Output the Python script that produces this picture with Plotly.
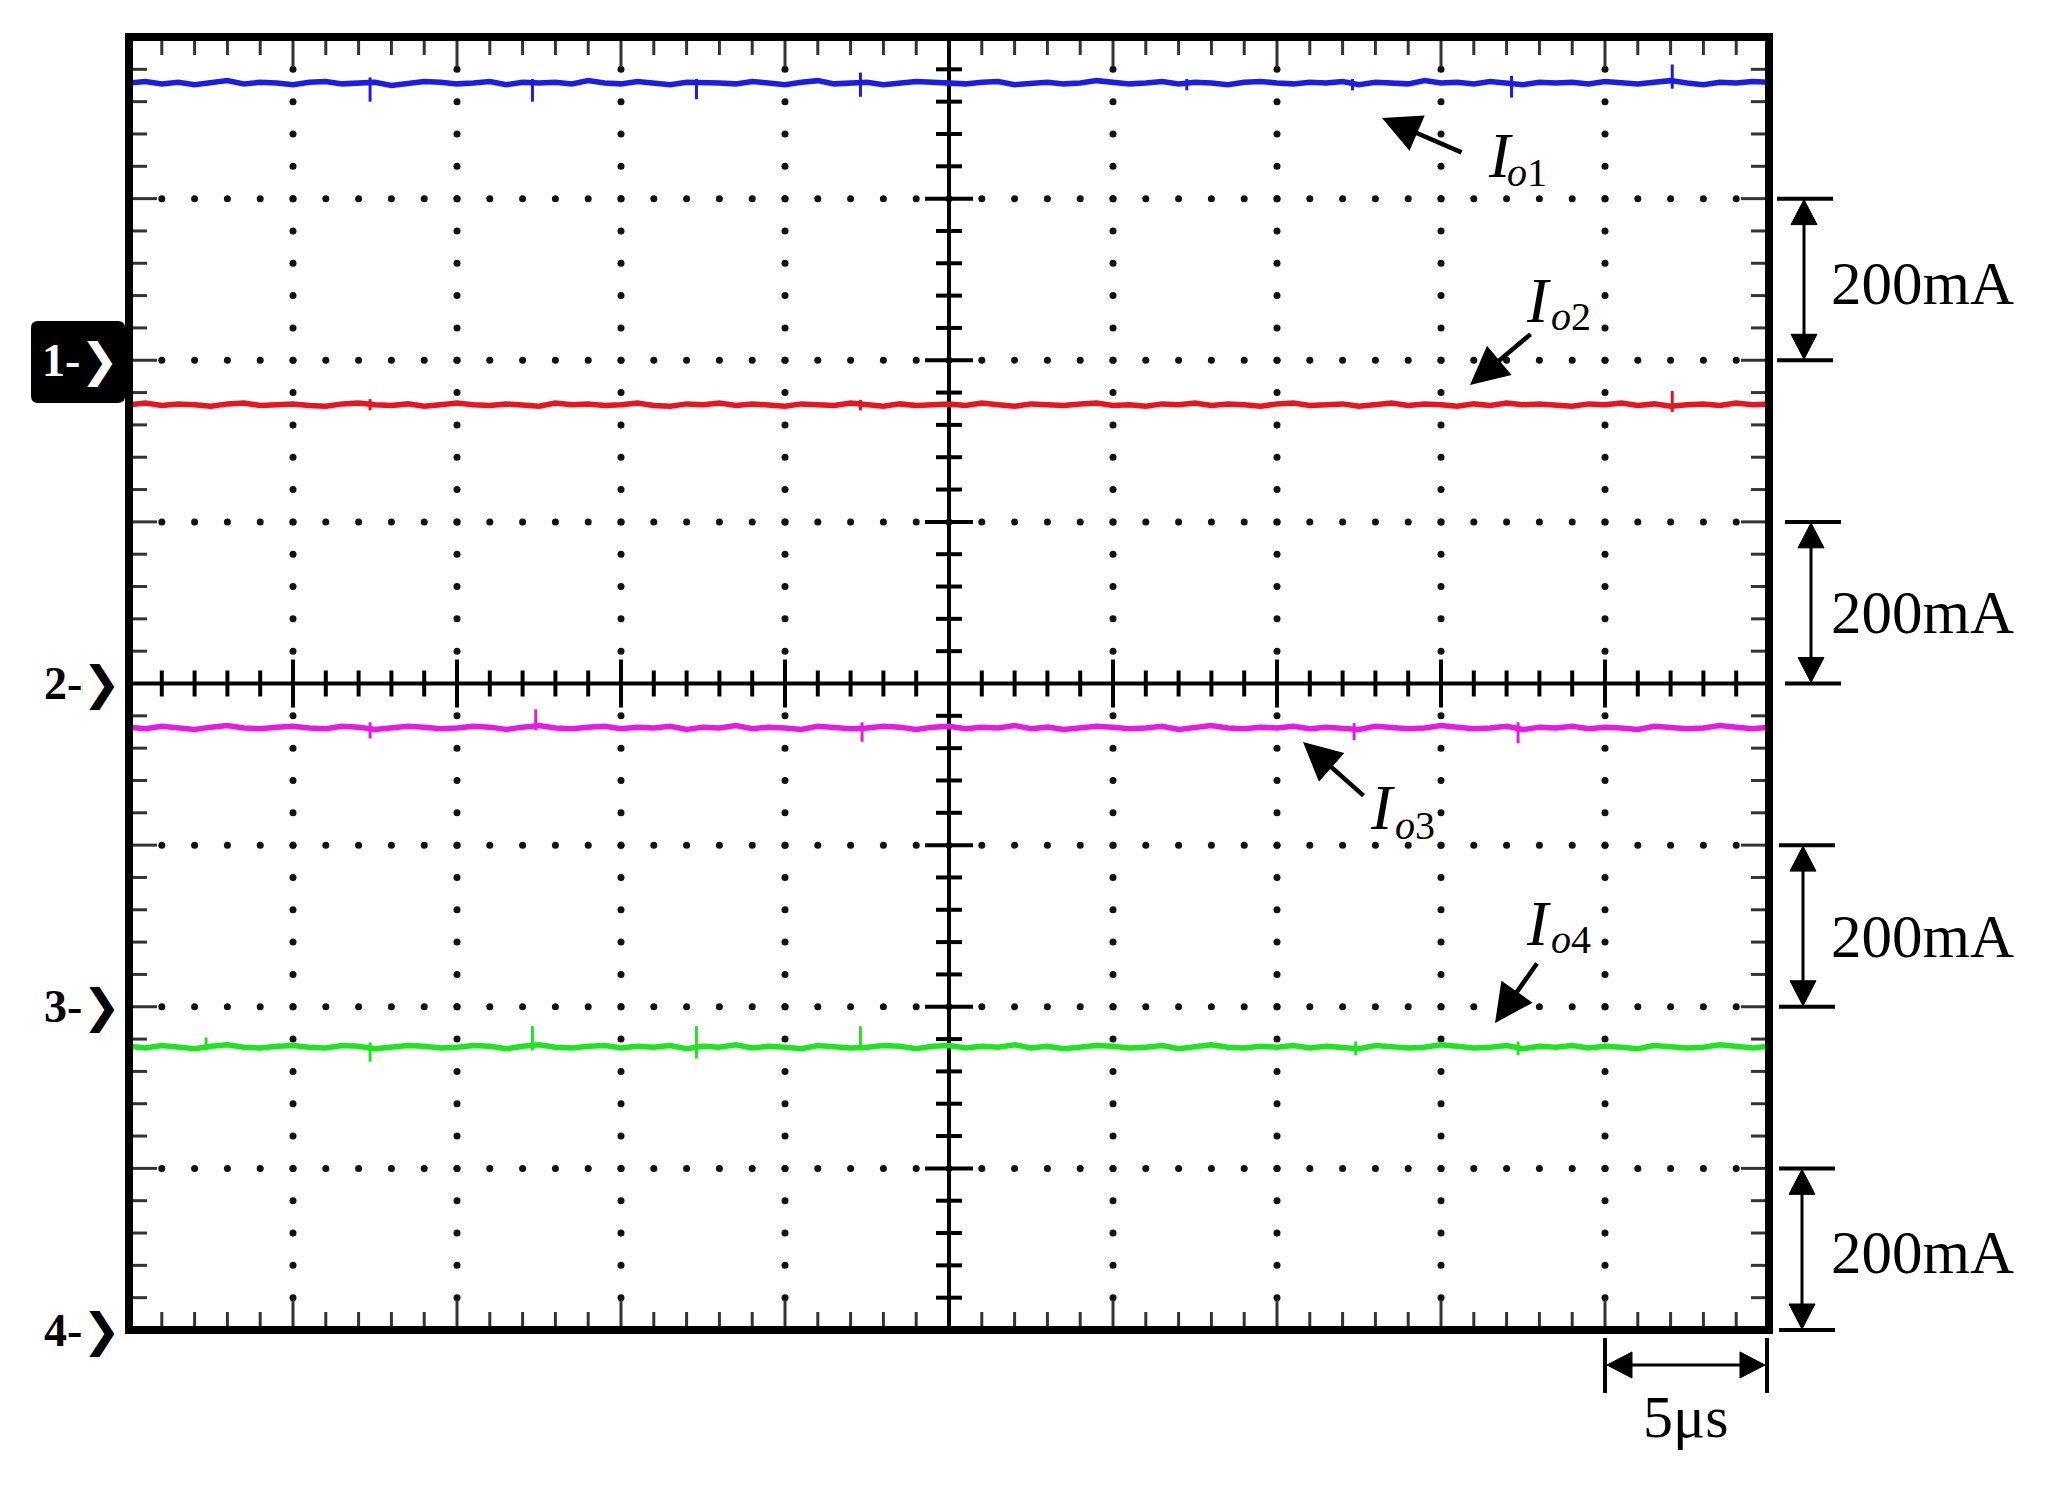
import numpy as np
import plotly.graph_objects as go

# ---------------- data ----------------
us_per_div = 5
ma_per_div = 200
n_xdiv, n_ydiv = 10, 8
channel_ground_div = [6, 4, 2, 0]
channel_numbers = ["1", "2", "3", "4"]
trace_colors = ["#1c1ce8", "#e8141e", "#e619e6", "#1ee61e"]

io1 = [343,345,342,344,341,343,346,342,344,343,
       341,344,345,342,343,344,340,343,345,344,
       342,343,345,341,344,343,344,342,346,343,
       342,345,343,341,344,344,343,342,345,343,
       341,344,346,342,343,344,341,343,345,344,
       343,342,344,345,341,343,344,342,343,346,
       344,342,343,345,342,344,343,341,344,345,
       343,342,344,343,345,341,344,343,342,346,
       343,344,342,345,343,341,344,343,344,342,
       345,343,342,344,346,343,341,344,343,345,344]
io2 = [345,347,344,346,345,343,346,347,344,345,
       346,344,343,346,347,345,344,346,343,345,
       347,345,344,346,345,343,347,345,346,344,
       345,347,344,343,346,345,347,344,346,345,
       343,346,345,344,347,345,343,346,344,345,
       346,344,347,345,343,346,345,344,346,347,
       344,345,343,346,345,347,344,346,345,343,
       346,347,344,345,346,343,345,347,344,346,
       345,343,346,344,347,345,346,344,343,346,
       345,347,344,346,343,345,346,344,347,345,346]
io3 = [346,344,347,345,343,346,348,345,344,346,
       347,345,344,347,346,343,345,347,346,344,
       345,347,346,343,346,348,345,344,346,347,
       344,346,345,347,343,346,345,348,344,346,
       345,343,347,346,344,345,347,346,343,346,
       347,344,346,345,348,344,346,343,345,347,
       346,344,345,347,343,346,348,345,344,346,
       345,347,344,346,345,343,347,346,344,345,
       348,346,344,345,347,343,346,345,347,344,
       346,345,343,347,346,344,345,348,346,344,346]
io4 = [351,349,352,350,348,351,353,350,349,351,
       352,350,349,352,351,348,350,352,351,349,
       350,352,351,348,351,353,350,349,351,352,
       349,351,350,352,348,351,350,353,349,351,
       350,348,352,351,349,350,352,351,348,351,
       352,349,351,350,353,349,351,348,350,352,
       351,349,350,352,348,351,353,350,349,351,
       350,352,349,351,350,348,352,351,349,350,
       353,351,349,350,352,348,351,350,352,349,
       351,350,348,352,351,349,350,353,351,349,351]
traces_ma = [io1, io2, io3, io4]

# spikes: time (us), low (mA), high (mA)
spike_t = [
    [7.35, 12.3, 17.3, 22.3, 32.25, 37.3, 42.15, 47.05],
    [7.35, 22.3, 47.05],
    [7.35, 12.4, 22.35, 37.35, 42.35],
    [2.35, 7.35, 12.3, 17.3, 22.3, 37.4, 42.35],
]
spike_lo = [
    [320, 320, 323, 326, 334, 334, 325, 336],
    [338, 338, 336],
    [332, 342, 328, 330, 326],
    [346, 332, 346, 336, 346, 340, 340],
]
spike_hi = [
    [350, 348, 348, 356, 348, 348, 352, 366],
    [352, 351, 362],
    [352, 368, 352, 351, 352],
    [362, 356, 376, 376, 376, 357, 357],
]

# ---------------- geometry helpers (page pixels) ----------------
W, H = 2048, 1488
BODY = 8                      # browser body margin
PL, PR, PT, PB = 129, 1769, 37, 1330
XMAX = us_per_div * n_xdiv
dx = XMAX / (PR - PL)       # data units per px
dy = n_ydiv / (PB - PT)

def px2x(px):
    return (px - PL) / (PR - PL)

def py2y(py):
    return (PB - py) / (PB - PT)

fig = go.Figure()

# ---------------- grid dots ----------------
gx, gy = [], []
for i in range(1, n_xdiv):
    if i == n_xdiv // 2:
        continue
    for k in range(1, n_ydiv * 5):
        if k == n_ydiv * 5 // 2:
            continue
        gx.append(i * us_per_div); gy.append(k * 0.2)
for j in range(1, n_ydiv):
    if j == n_ydiv // 2:
        continue
    for k in range(1, n_xdiv * 5):
        gx.append(k * us_per_div / 5); gy.append(j)
fig.add_trace(go.Scatter(x=gx, y=gy, mode="markers",
                         marker=dict(size=7, color="#111111", line=dict(width=0)),
                         hoverinfo="skip", showlegend=False))

# ---------------- border ticks ----------------
tx, ty = [], []
for k in range(1, n_xdiv * 5):
    L = 30 if k % 5 == 0 else 18
    x = k * us_per_div / 5
    tx += [x, x, None, x, x, None]
    ty += [n_ydiv, n_ydiv - L * dy, None, 0, L * dy, None]
for k in range(1, n_ydiv * 5):
    L = 28 if k % 5 == 0 else 18
    y = k * 0.2
    tx += [0, L * dx, None, XMAX, XMAX - L * dx, None]
    ty += [y, y, None, y, y, None]
fig.add_trace(go.Scatter(x=tx, y=ty, mode="lines", line=dict(color="#333333", width=3),
                         hoverinfo="skip", showlegend=False))

# ---------------- center cross ----------------
cx, cy = [0, XMAX, None, XMAX / 2, XMAX / 2], [n_ydiv / 2, n_ydiv / 2, None, 0, n_ydiv]
for k in range(1, n_xdiv * 5):
    if k == n_xdiv * 5 // 2:
        continue
    L = 24 if k % 5 == 0 else 13
    x = k * us_per_div / 5
    cx += [None, x, x]
    cy += [None, n_ydiv / 2 - L * dy, n_ydiv / 2 + L * dy]
for k in range(1, n_ydiv * 5):
    if k == n_ydiv * 5 // 2:
        continue
    L = 24 if k % 5 == 0 else 13
    y = k * 0.2
    cx += [None, XMAX / 2 - L * dx, XMAX / 2 + L * dx]
    cy += [None, y, y]
fig.add_trace(go.Scatter(x=cx, y=cy, mode="lines", line=dict(color="#000000", width=4),
                         hoverinfo="skip", showlegend=False))

# ---------------- signal traces ----------------
for vals, g, col, st, lo, hi in zip(traces_ma, channel_ground_div, trace_colors,
                                    spike_t, spike_lo, spike_hi):
    t = np.linspace(0, XMAX, len(vals))
    y = g + np.array(vals) / ma_per_div
    sx, sy = [], []
    for a, b, c in zip(st, lo, hi):
        sx += [a, a, None]
        sy += [g + b / ma_per_div, g + c / ma_per_div, None]
    fig.add_trace(go.Scatter(x=sx, y=sy, mode="lines", line=dict(color=col, width=3),
                             hoverinfo="skip", showlegend=False))
    fig.add_trace(go.Scatter(x=t, y=y, mode="lines", line=dict(color=col, width=5.5),
                             hoverinfo="skip", showlegend=False))

# ---------------- shapes ----------------
shapes = []
# frame (paper refs so the stroke is not clipped)
shapes.append(dict(type="rect", xref="paper", yref="paper", x0=0, x1=1, y0=0, y1=1,
                   line=dict(color="black", width=8), layer="above"))

def line_px(x0, y0, x1, y1, w=3):
    return dict(type="line", xref="paper", yref="paper",
                x0=px2x(x0), y0=py2y(y0), x1=px2x(x1), y1=py2y(y1),
                line=dict(color="black", width=w), layer="above")

def tri_px(pts):
    p = "M " + " L ".join(f"{px2x(a):.6f},{py2y(b):.6f}" for a, b in pts) + " Z"
    return dict(type="path", xref="paper", yref="paper", path=p,
                fillcolor="black", line=dict(color="black", width=1), layer="above")

# 200mA scale bars (between grid rows)
bar_rows = [(7, 6), (5, 4), (3, 2), (1, 0)]
bar_x = [1804, 1811, 1803, 1802]
bar_l = [1777, 1785, 1779, 1779]
for (r0, r1), xa, xl in zip(bar_rows, bar_x, bar_l):
    ytop = PB - r0 / n_ydiv * (PB - PT)
    ybot = PB - r1 / n_ydiv * (PB - PT)
    shapes.append(line_px(xl, ytop, xl + 56, ytop, 4))
    shapes.append(line_px(xl, ybot, xl + 56, ybot, 4))
    shapes.append(line_px(xa, ytop + 20, xa, ybot - 20, 3))
    shapes.append(tri_px([(xa, ytop + 1), (xa - 13, ytop + 26), (xa + 13, ytop + 26)]))
    shapes.append(tri_px([(xa, ybot - 1), (xa - 13, ybot - 26), (xa + 13, ybot - 26)]))

# 5 us scale bar
xs0 = PR - (PR - PL) / n_xdiv
xs1 = PR - 2
shapes.append(line_px(xs0, 1338, xs0, 1393, 4))
shapes.append(line_px(xs1, 1338, xs1, 1393, 4))
shapes.append(line_px(xs0 + 20, 1365, xs1 - 20, 1365, 3))
shapes.append(tri_px([(xs0 + 2, 1365), (xs0 + 27, 1352), (xs0 + 27, 1378)]))
shapes.append(tri_px([(xs1 - 2, 1365), (xs1 - 27, 1352), (xs1 - 27, 1378)]))

# channel 1 marker box (rounded)
bx0, bx1, by0, by1, r = 31, 125, 321, 403, 7
pts = (f"M {px2x(bx0 + r)},{py2y(by0)} L {px2x(bx1 - r)},{py2y(by0)} "
       f"Q {px2x(bx1)},{py2y(by0)} {px2x(bx1)},{py2y(by0 + r)} "
       f"L {px2x(bx1)},{py2y(by1 - r)} Q {px2x(bx1)},{py2y(by1)} {px2x(bx1 - r)},{py2y(by1)} "
       f"L {px2x(bx0 + r)},{py2y(by1)} Q {px2x(bx0)},{py2y(by1)} {px2x(bx0)},{py2y(by1 - r)} "
       f"L {px2x(bx0)},{py2y(by0 + r)} Q {px2x(bx0)},{py2y(by0)} {px2x(bx0 + r)},{py2y(by0)} Z")
shapes.append(dict(type="path", xref="paper", yref="paper", path=pts,
                   fillcolor="black", line=dict(color="black", width=0), layer="above"))

# ---------------- annotations ----------------
FONT = "Liberation Serif"
ann = []

def text_px(text, px, py, size, xanchor="left", color="black", family=FONT):
    return dict(text=text, x=px2x(px), y=py2y(py), xref="paper", yref="paper",
                showarrow=False, xanchor=xanchor, yanchor="middle",
                font=dict(family=family, size=size, color=color))

def arrow_px(tip, tail):
    return dict(text="", x=px2x(tip[0]), y=py2y(tip[1]), xref="paper", yref="paper",
                ax=tail[0] - tip[0], ay=tail[1] - tip[1], axref="pixel", ayref="pixel",
                showarrow=True, arrowhead=2, arrowsize=1.7, arrowwidth=4.5,
                arrowcolor="black", standoff=0, startstandoff=0)

# channel markers
for num, g in zip(channel_numbers, channel_ground_div):
    ypx = PB - g / n_ydiv * (PB - PT)
    col = "white" if g == channel_ground_div[0] else "black"
    lab = (f"<b>{num}-</b><span style='font-family:DejaVu Sans;font-weight:bold'>"
           f"\u276f</span>")
    ann.append(text_px(lab, 80 if col == "white" else 82, ypx, 46,
                       xanchor="center", color=col))

# 200mA labels
for yc in [283, 612, 936, 1252]:
    ann.append(text_px("200mA", 1829, yc, 61))
ann.append(text_px("5\u03bcs", (xs0 + xs1) / 2, 1417, 60, xanchor="center"))

# trace labels
labels = [("1", 1486, 155, 1505, 172, (1382, 118), (1463, 153)),
          ("2", 1524, 300, 1549, 316, (1470, 385), (1532, 333)),
          ("3", 1368, 808, 1393, 825, (1303, 742), (1365, 797)),
          ("4", 1524, 923, 1549, 939, (1495, 1023), (1538, 962))]
for num, ix, iy, sx_, sy_, tip, tail in labels:
    ann.append(text_px("<i>I</i>", ix, iy, 64))
    ann.append(text_px(f"<i>o</i>{num}", sx_, sy_, 40))
    ann.append(arrow_px(tip, tail))

# figure sits inside the page body margin, so shift everything by BODY px
FW, FH = W - BODY, H - BODY
fig.update_layout(
    width=FW, height=FH,
    margin=dict(l=PL - BODY, r=FW - (PR - BODY), t=PT - BODY, b=FH - (PB - BODY), pad=0),
    paper_bgcolor="white", plot_bgcolor="white",
    showlegend=False,
    xaxis=dict(range=[0, XMAX], visible=False, fixedrange=True),
    yaxis=dict(range=[0, n_ydiv], visible=False, fixedrange=True),
    shapes=shapes, annotations=ann,
)

fig.write_html("out.html")
